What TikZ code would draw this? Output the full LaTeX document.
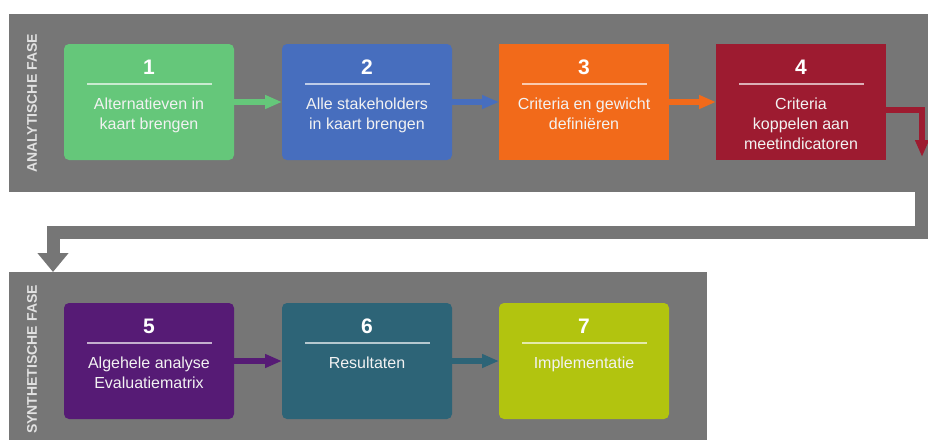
\documentclass[tikz,border=0pt]{standalone}
\usepackage{fontspec}
\setmainfont{Liberation Sans}
\usetikzlibrary{arrows.meta}

\definecolor{panelgrey}{HTML}{767676}
\definecolor{cgreen}{HTML}{65C77A}
\definecolor{cblue}{HTML}{476EBE}
\definecolor{corange}{HTML}{F26A1A}
\definecolor{cred}{HTML}{9D1B30}
\definecolor{cpurple}{HTML}{561B75}
\definecolor{cteal}{HTML}{2D6477}
\definecolor{clime}{HTML}{B2C40F}
\definecolor{bodytext}{HTML}{F2F2F2}
\definecolor{sidetext}{HTML}{E2E2E2}

\begin{document}
\begin{tikzpicture}[x=1pt,y=-1pt,
  panel/.style={fill=panelgrey, draw=none, inner sep=0pt, outer sep=0pt, anchor=north west},
  stepbox/.style={fill=#1, draw=none, minimum width=170pt, minimum height=116pt,
    inner sep=0pt, outer sep=0pt, anchor=north west},
  roundbox/.style={stepbox=#1, rounded corners=5pt},
  num/.style={anchor=base, inner sep=0pt, text=white, font=\fontsize{21}{24}\selectfont\bfseries},
  sep/.style={draw=white, draw opacity=0.65, line width=1.5pt},
  txt/.style={anchor=north, inner sep=0pt, align=center, text=bodytext,
    font=\fontsize{16}{20}\selectfont},
  phase/.style={rotate=90, inner sep=0pt, text=sidetext, font=\fontsize{14}{16}\selectfont\bfseries},
  link/.style={draw=#1, line width=6pt, line join=miter, -{Triangle[length=17pt,width=13pt]}},
  flow/.style={draw=panelgrey, line width=13pt, line join=miter, -{Triangle[length=19pt,width=30pt]}}
]
\useasboundingbox (0,0) rectangle (928,439);
\clip (0,0) rectangle (928,439);

% phase panels
\node[panel, minimum width=919pt, minimum height=178pt] (p1) at (9,14) {};
\node[panel, minimum width=698pt, minimum height=178pt] (p2) at (9,272) {};
\node[phase] (l1) at (32,103.5) {ANALYTISCHE FASE};
\node[phase, anchor=east] (l2) at (32,285) {SYNTHETISCHE FASE};

% connector from the analytic to the synthetic phase
\coordinate (fstart) at ([xshift=-6.5pt,yshift=6pt]p1.south east);
\coordinate (fbend) at (53,232.5);
\coordinate (fend) at ([xshift=44pt]p2.north west);
\draw[flow] (fstart) |- (fbend) -- (fend);

% step boxes
\node[roundbox=cgreen] (b1) at (64,44) {};
\node[roundbox=cblue] (b2) at (282,44) {};
\node[stepbox=corange] (b3) at (499,44) {};
\node[stepbox=cred] (b4) at (716,44) {};
\node[roundbox=cpurple] (b5) at (64,303) {};
\node[roundbox=cteal] (b6) at (282,303) {};
\node[roundbox=clime] (b7) at (499,303) {};

% numbers, rules and descriptions
\foreach \b/\n in {b1/1,b2/2,b3/3,b4/4,b5/5,b6/6,b7/7}{
  \node[num] (\b n) at ([yshift=-30.5pt]\b.north) {\n};
  \draw[sep] ([xshift=23pt,yshift=-40pt]\b.north west) -- ([xshift=-22pt,yshift=-40pt]\b.north east);
}
\node[txt] (t1) at ([yshift=-53.5pt]b1.north) {Alternatieven in\\kaart brengen};
\node[txt] (t2) at ([yshift=-53.5pt]b2.north) {Alle stakeholders\\in kaart brengen};
\node[txt] (t3) at ([yshift=-53.5pt]b3.north) {Criteria en gewicht\\definiëren};
\node[txt] (t4) at ([yshift=-53.5pt]b4.north) {Criteria\\koppelen aan\\meetindicatoren};
\node[txt] (t5) at ([yshift=-53.5pt]b5.north) {Algehele analyse\\Evaluatiematrix};
\node[txt] (t6) at ([yshift=-53.5pt]b6.north) {Resultaten};
\node[txt] (t7) at ([yshift=-53.5pt]b7.north) {Implementatie};

% arrows between steps
\draw[link=cgreen] (b1) -- (b2);
\draw[link=cblue] (b2) -- (b3);
\draw[link=corange] (b3) -- (b4);
\coordinate (d4) at (922,157);
\draw[link=cred] ([yshift=-7.5pt]b4.east) -| (d4);
\draw[link=cpurple] (b5) -- (b6);
\draw[link=cteal] (b6) -- (b7);
\end{tikzpicture}
\end{document}
